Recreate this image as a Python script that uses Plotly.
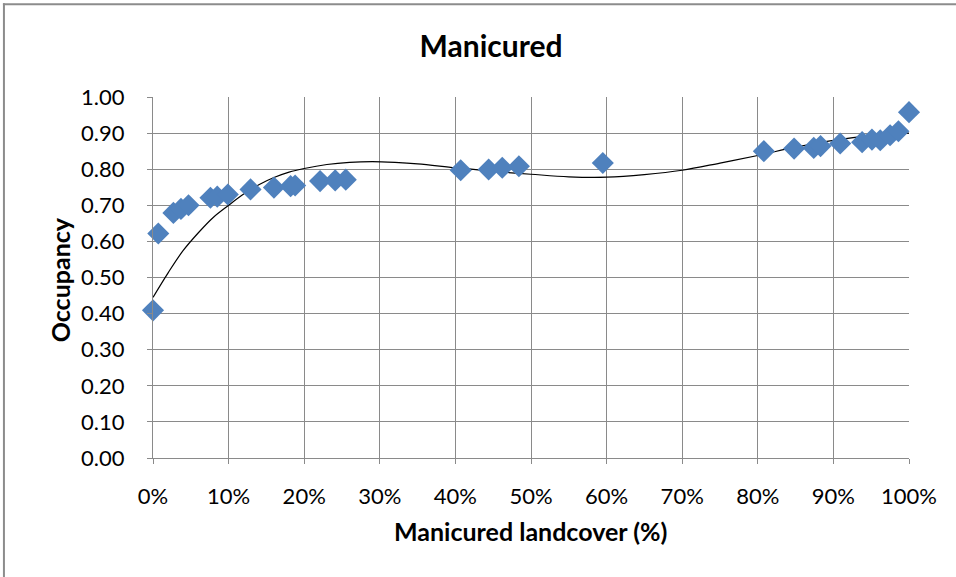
import plotly.graph_objects as go

# Observed points
landcover = [0.000, 0.007, 0.027, 0.037, 0.047, 0.076, 0.085, 0.099, 0.129, 0.160, 0.182, 0.188,
             0.221, 0.241, 0.255, 0.407, 0.444, 0.462, 0.484, 0.595,
             0.808, 0.848, 0.874, 0.883, 0.909, 0.938, 0.951, 0.962, 0.975, 0.986, 1.000]
occupancy = [0.409, 0.622, 0.679, 0.690, 0.700, 0.721, 0.724, 0.730, 0.744, 0.749, 0.753, 0.755,
             0.767, 0.769, 0.771, 0.797, 0.799, 0.804, 0.808, 0.817,
             0.850, 0.857, 0.859, 0.864, 0.871, 0.875, 0.882, 0.880, 0.894, 0.905, 0.958]

# Trendline
trend_x = [0.00, 0.02, 0.04, 0.06, 0.08, 0.10, 0.12, 0.14, 0.16, 0.18, 0.20, 0.23, 0.26, 0.29,
           0.32, 0.35, 0.40, 0.45, 0.50, 0.55, 0.60, 0.65, 0.70, 0.75, 0.80, 0.85, 0.90, 0.95, 1.00]
trend_y = [0.445, 0.513, 0.575, 0.624, 0.667, 0.700, 0.731, 0.757, 0.777, 0.792, 0.802, 0.813,
           0.819, 0.821, 0.819, 0.815, 0.804, 0.794, 0.786, 0.779, 0.778, 0.785, 0.797, 0.817,
           0.838, 0.861, 0.880, 0.893, 0.900]

x_ticks = [i / 10 for i in range(11)]
y_ticks = [i / 10 for i in range(11)]

W, H = 956, 577
L, R, T, B = 153, 908.7, 96.7, 457.7

fig = go.Figure()
fig.add_trace(go.Scatter(x=trend_x, y=trend_y, mode="lines", line=dict(color="#000000", width=1.2, shape="spline"),
                         hoverinfo="skip", showlegend=False, cliponaxis=False))
fig.add_trace(go.Scatter(x=landcover, y=occupancy, mode="markers",
                         marker=dict(symbol="diamond", size=17, color="#4F81BD", line=dict(width=0)),
                         cliponaxis=False, showlegend=False))

font = "Lato, Liberation Sans, sans-serif"
grid = "#8A8A8A"
axis_common = dict(showgrid=True, gridcolor=grid, gridwidth=1, zeroline=False,
                   ticks="outside", ticklen=5, tickcolor=grid, showline=True,
                   linecolor=grid, linewidth=1,
                   tickfont=dict(family=font, size=22, color="#000000"))
fig.update_layout(
    width=W, height=H,
    margin=dict(l=L, r=W - R, t=T, b=H - B),
    paper_bgcolor="white", plot_bgcolor="white",
    title=dict(text="<b>Manicured</b>", x=491 / W, xanchor="center", y=1 - 46 / H, yanchor="middle",
               font=dict(family=font, size=30, color="#000000")),
    xaxis=dict(range=[0, 1], tickvals=x_ticks, tickformat=".0%", ticklabelstandoff=14, **axis_common),
    yaxis=dict(range=[0, 1], tickvals=y_ticks, tickformat=".2f", ticklabelstandoff=18, **axis_common),
)

def px_x(p):
    return (p - L) / (R - L)

def px_y(p):
    return (B - p) / (B - T)

fig.add_annotation(text="<b>Manicured landcover (%)</b>", xref="paper", yref="paper",
                   x=px_x(530), y=px_y(531), showarrow=False, xanchor="center", yanchor="middle",
                   font=dict(family=font, size=25, color="#000000"))
fig.add_annotation(text="<b>Occupancy</b>", xref="paper", yref="paper", textangle=-90,
                   x=px_x(60), y=px_y(279), showarrow=False, xanchor="center", yanchor="middle",
                   font=dict(family=font, size=25, color="#000000"))

fig.add_shape(type="line", xref="paper", yref="paper", x0=px_x(4), x1=px_x(4), y0=px_y(3), y1=px_y(H + 5),
              line=dict(color="#8C8C8C", width=2))
fig.add_shape(type="line", xref="paper", yref="paper", x0=px_x(3), x1=px_x(W + 5), y0=px_y(4), y1=px_y(4),
              line=dict(color="#8C8C8C", width=2))

fig.write_html("out.html", config={"displayModeBar": False},
               post_script="document.body.style.margin='0';document.body.style.overflow='hidden';")
